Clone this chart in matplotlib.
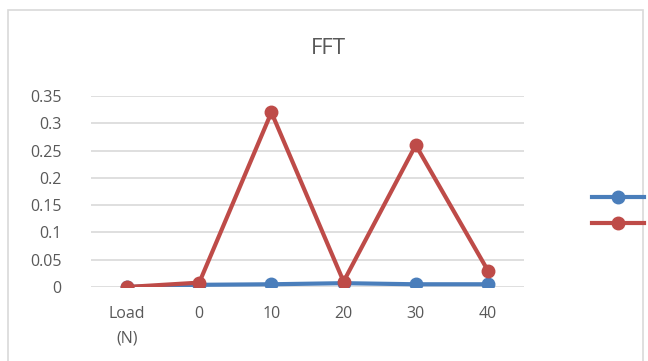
import matplotlib
matplotlib.use("Agg")
import matplotlib.pyplot as plt
from matplotlib.lines import Line2D
from matplotlib.patches import Rectangle

categories = ["Load\n(N)", "0", "10", "20", "30", "40"]
series_blue = [0.0, 0.004, 0.005, 0.007, 0.005, 0.005]
series_red = [0.0, 0.008, 0.32, 0.01, 0.26, 0.03]
y_ticks = [0, 0.05, 0.1, 0.15, 0.2, 0.25, 0.3, 0.35]
y_tick_labels = ["0", "0.05", "0.1", "0.15", "0.2", "0.25", "0.3", "0.35"]

BLUE = "#4a7ebb"
RED = "#be4b48"
TEXT = "#595959"

plt.rcParams["font.family"] = ["Open Sans", "DejaVu Sans"]

fig = plt.figure(figsize=(6.48, 3.61), dpi=100)
fig.patch.set_facecolor("white")

# chart frame
fig.patches.append(Rectangle((8 / 648, -0.05), 635 / 648, 1 - 10 / 361 + 0.05,
                             transform=fig.transFigure, fill=False,
                             edgecolor="#d9d9d9", linewidth=1.2))

ax = fig.add_axes([91 / 648, 1 - 287 / 361, (524 - 91) / 648, (287 - 96) / 361])
x = list(range(len(categories)))

ax.plot(x, series_blue, color=BLUE, lw=3.0, marker="o", ms=9,
        solid_capstyle="round", zorder=3)
ax.plot(x, series_red, color=RED, lw=3.0, marker="o", ms=9,
        solid_capstyle="round", zorder=4)

ax.set_xlim(-0.5, len(categories) - 0.5)
ax.set_ylim(0, 0.35)
ax.set_yticks(y_ticks)
ax.set_yticklabels(y_tick_labels)
ax.set_xticks(x)
ax.set_xticklabels(categories, linespacing=1.7)

for s in ax.spines.values():
    s.set_visible(False)
ax.grid(axis="y", color="#d9d9d9", lw=1.2)
ax.set_axisbelow(True)
ax.tick_params(axis="both", length=0, colors=TEXT, labelsize=11.5)
ax.tick_params(axis="y", pad=21)
ax.tick_params(axis="x", pad=14)

fig.text(328 / 648, 1 - 48 / 361, "FFT", ha="center", va="center",
         fontsize=16, color=TEXT)

handles = [Line2D([], [], color=BLUE, lw=3.0, marker="o", ms=9),
           Line2D([], [], color=RED, lw=3.0, marker="o", ms=9)]
fig.legend(handles, ["", ""], loc="upper left",
           bbox_to_anchor=(586 / 648, 1 - 185 / 361), frameon=False,
           handlelength=3.8, fontsize=10, labelspacing=0.85,
           handletextpad=0.2, borderaxespad=0)

fig.savefig("out.png", dpi=100)
